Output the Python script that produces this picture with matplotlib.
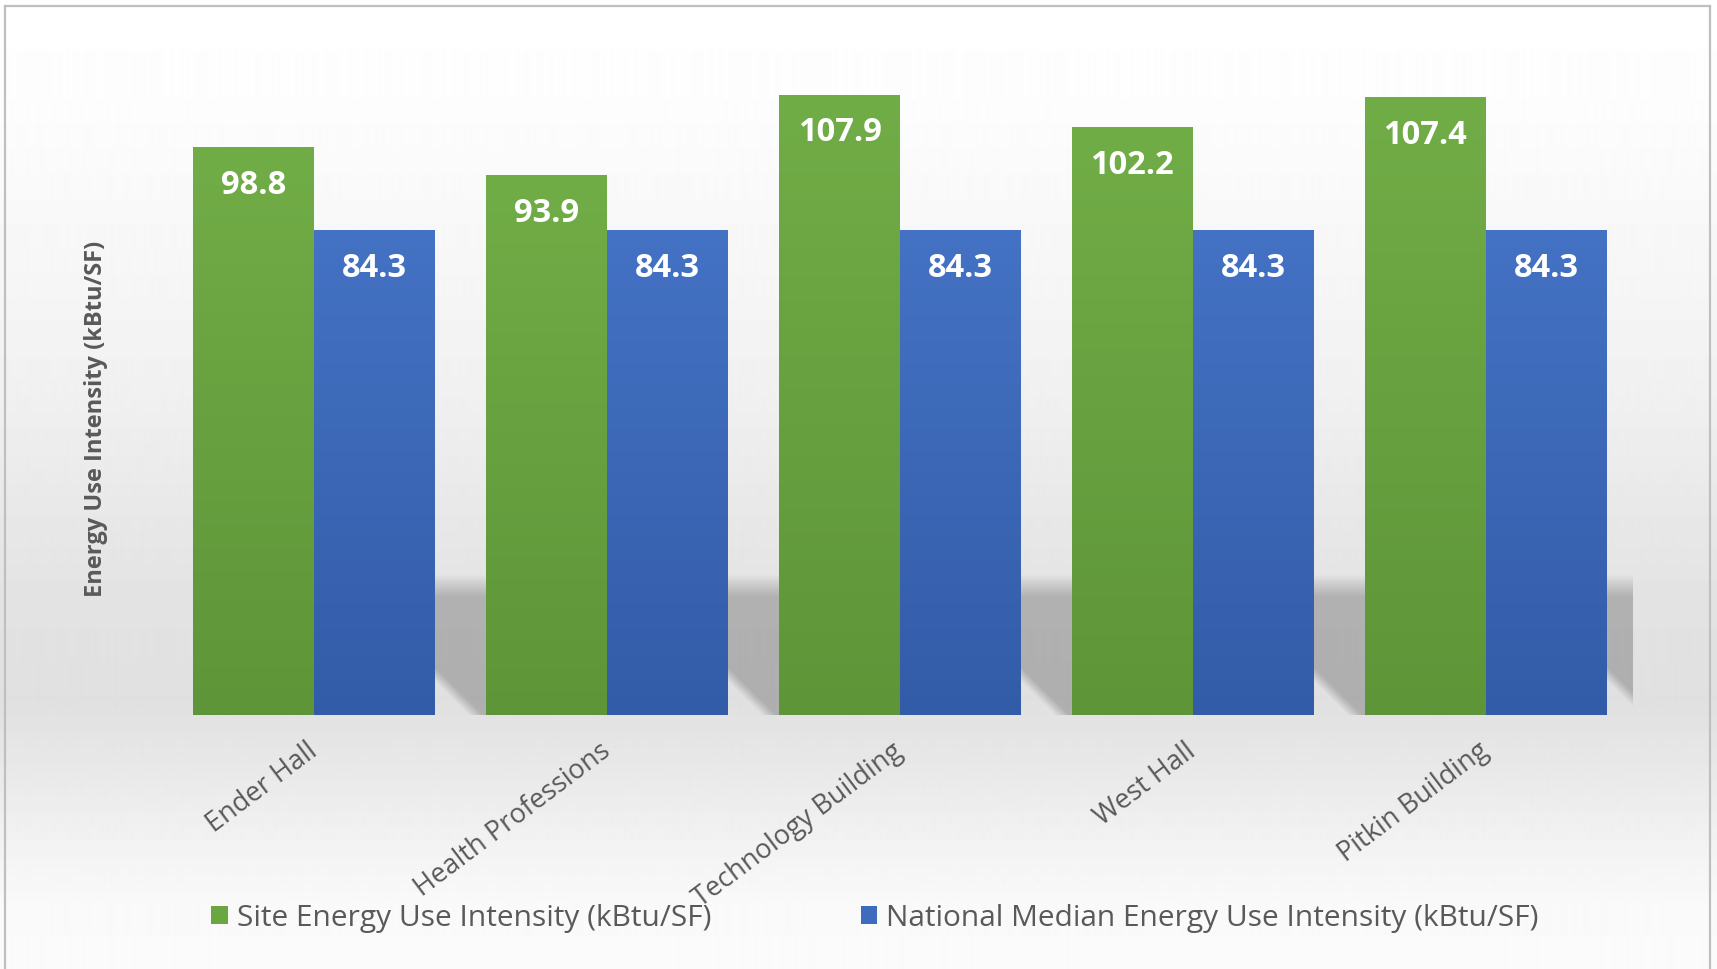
import numpy as np
import matplotlib
matplotlib.use('Agg')
import matplotlib.pyplot as plt
from matplotlib.patches import Patch
from matplotlib.lines import Line2D

plt.rcParams['font.family'] = ['Open Sans', 'DejaVu Sans']

# ---------------- data ----------------
buildings = ["Ender Hall", "Health Professions", "Technology Building", "West Hall", "Pitkin Building"]
site_eui = [98.8, 93.9, 107.9, 102.2, 107.4]
national_eui = [84.3, 84.3, 84.3, 84.3, 84.3]
series_names = ["Site Energy Use Intensity (kBtu/SF)",
                "National Median Energy Use Intensity (kBtu/SF)"]
y_label = "Energy Use Intensity (kBtu/SF)"

# ---------------- styles ----------------
green_top, green_bot = np.array([0x71, 0xad, 0x47]) / 255, np.array([0x5e, 0x95, 0x38]) / 255
blue_top, blue_bot = np.array([0x44, 0x72, 0xc4]) / 255, np.array([0x33, 0x5c, 0xa8]) / 255
text_gray = '#595959'

W, H = 1717, 969
fig = plt.figure(figsize=(W / 100, H / 100), dpi=100)

# background gradient
bg = fig.add_axes([0, 0, 1, 1], zorder=-10)
stops_y = [0, 100, 200, 300, 400, 500, 600, 700, 730, 780, 840, 900, 969]
stops_v = [255, 253, 249, 245, 240, 233, 227, 224, 228, 234, 242, 249, 251]
rows = np.interp(np.arange(H), stops_y, stops_v) / 255
bg_img = np.repeat(rows[:, None], 2, axis=1)
bg.imshow(bg_img, cmap='gray', vmin=0, vmax=1, aspect='auto', extent=[0, 1, 0, 1], origin='upper')
bg.set_xlim(0, 1)
bg.set_ylim(0, 1)
bg.axis('off')

# chart border
for xs, ys in [([0.003, 0.996], [0.9941, 0.9941]),
               ([0.0032, 0.0032], [0.0, 0.9941]),
               ([0.9959, 0.9959], [0.0, 0.9941])]:
    fig.add_artist(Line2D(xs, ys, transform=fig.transFigure, color='#bfbfbf', lw=1.6))

# main axes
ax = fig.add_axes([168 / W, 1 - 715 / H, (1632 - 168) / W, (715 - 25) / H])
ax.set_facecolor('none')
x = np.arange(len(buildings))
w = 0.413

bars_g = ax.bar(x - w / 2, site_eui, width=w, color=green_top, zorder=3, linewidth=0)
bars_b = ax.bar(x + w / 2, national_eui, width=w, color=blue_top, zorder=3, linewidth=0)

def grad_fill(patch, top, bot):
    n = 256
    t = np.linspace(0, 1, n)[:, None]
    col = top[None, :] * (1 - t) + bot[None, :] * t
    img = col[:, None, :]
    x0, wd, hgt = patch.get_x(), patch.get_width(), patch.get_height()
    im = ax.imshow(img, extent=[x0, x0 + wd, 0, hgt], origin='upper', aspect='auto',
                   zorder=4, interpolation='bilinear')
    im.set_clip_path(patch)

for p in bars_g:
    grad_fill(p, green_top, green_bot)
for p in bars_b:
    grad_fill(p, blue_top, blue_bot)

# soft perspective-like shadows behind each group
gap = 1 - 2 * w
for i, c in enumerate(x):
    gl = c + w
    xr = c + 1.0
    ny, nx = 260, 200
    yy = np.linspace(26, 0, ny)[:, None]
    xx = np.linspace(c, xr, nx)[None, :]
    a_top = np.clip((24.5 - yy) / (24.5 - 20.5), 0, 1)
    line = 7.0 * (1 - (xx - gl) / (0.8 * gap))
    a_diag = np.clip((yy - line) / 2.5 + 0.5, 0, 1)
    img = np.zeros((ny, nx, 4))
    img[:, :, 3] = 0.22 * a_top * a_diag
    ax.imshow(img, extent=[c, xr, 0, 26], origin='upper', aspect='auto',
              zorder=1, interpolation='bilinear')

ax.set_xlim(-0.5, len(buildings) - 0.5)
ax.set_ylim(0, 120)

# data labels
for p in list(bars_g) + list(bars_b):
    ax.annotate(f"{p.get_height():.1f}", xy=(p.get_x() + p.get_width() / 2, p.get_height()),
                xytext=(0, -27.5), textcoords='offset points', ha='center', va='center',
                color='white', fontweight='bold', fontsize=23.5, zorder=6)

for s in ax.spines.values():
    s.set_visible(False)
ax.set_yticks([])
ax.set_xticks(x)
ax.set_xticklabels(buildings, rotation=37, ha='right', va='center', rotation_mode='anchor',
                   fontsize=19.5, color=text_gray)
ax.tick_params(axis='x', length=0, pad=24)

fig.text(96 / W, 1 - 419 / H, y_label, rotation=90, ha='center', va='center',
         fontsize=17, fontweight='bold', color=text_gray)

handles = [Patch(facecolor='#6aa642', edgecolor='none'), Patch(facecolor='#3d6bbd', edgecolor='none')]
fig.legend(handles, series_names, loc='center', bbox_to_anchor=(0.5096, 0.0526), ncol=2,
           frameon=False, fontsize=21.5, handlelength=0.55, handleheight=0.55,
           handletextpad=0.3, columnspacing=5.0, labelcolor=text_gray)

fig.savefig('out.png', dpi=100)
